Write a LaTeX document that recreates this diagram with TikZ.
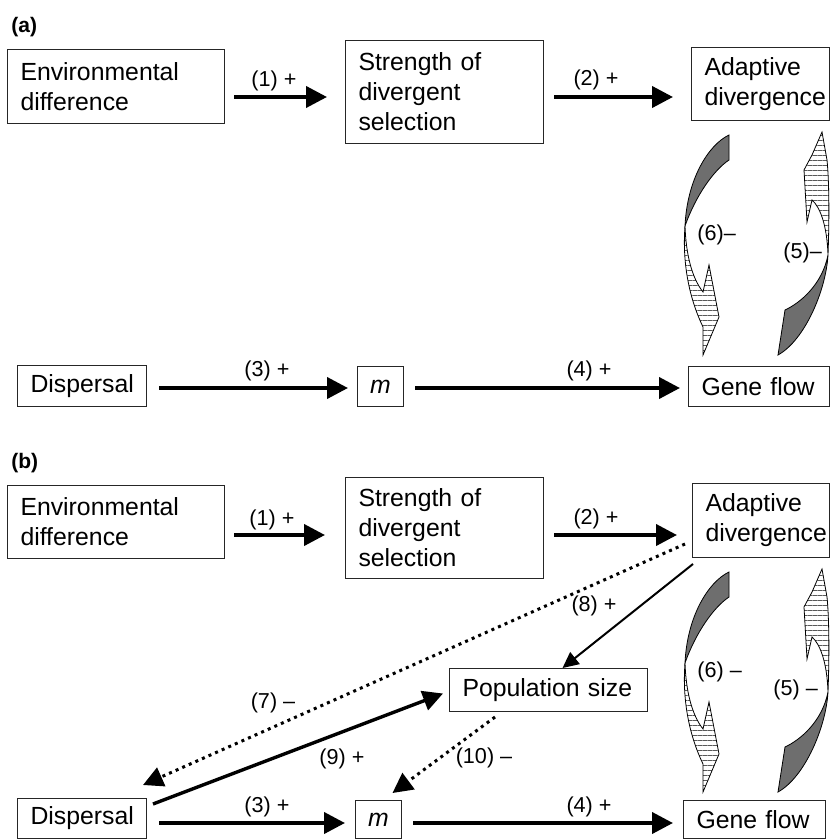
\documentclass[tikz,border=0pt]{standalone}
\usepackage{fontspec}
\setmainfont{Liberation Sans}
\usetikzlibrary{arrows.meta,patterns.meta}
\newcommand{\boxfont}{\fontsize{12.4}{15}\selectfont}
\newcommand{\lblfont}{\fontsize{10.8}{13}\selectfont}
\begin{document}
\begin{tikzpicture}[x=0.5pt,y=-0.5pt,
  box/.style={draw=black!85,line width=0.5pt,anchor=north west,align=left,inner xsep=6.5pt,inner ysep=0pt,font=\boxfont},
  mbox/.style={draw=black!85,line width=0.5pt,anchor=north west,inner sep=0pt,minimum width=23pt,font=\boxfont\itshape},
  lbl/.style={font=\lblfont,inner sep=1pt},
  panel/.style={font=\fontsize{10.5}{12}\selectfont\bfseries,anchor=west,inner sep=0pt},
  bigarrow/.style={-{Triangle[length=10.5pt,width=10.5pt]},line width=2pt},
  medarrow/.style={-{Triangle[length=10pt,width=10pt]},line width=1.7pt},
  slimarrow/.style={-{Triangle[length=8pt,width=7.5pt]},line width=1pt},
  dotarrow/.style={-{Triangle[length=10pt,width=10pt]},line width=1.5pt,dash pattern=on 1.5pt off 2.1pt},
  backside/.style={draw=black,line width=0.4pt,fill=black!57},
  frontside/.style={draw=black,line width=0.4pt,pattern={Lines[angle=0,distance=2.5pt,line width=0.3pt]},pattern color=black!65}]
\useasboundingbox (0,0) rectangle (831,840);

% (a) simple model
\node[panel] (pa) at (11,27) {(a)};
\node[box,text width=95.5pt,minimum height=37pt] (enva) at (7,49) {Environmental\\difference};
\node[box,text width=86pt,minimum height=51.5pt] (stra) at (345,40) {Strength of\\divergent\\selection};
\node[box,text width=56pt,minimum height=36.5pt] (ada) at (691,47) {Adaptive\\divergence};
\node[box,text width=51.5pt,minimum height=20.5pt] (dispa) at (17,365) {Dispersal};
\node[mbox,minimum height=20pt] (ma) at (357,366) {m};
\node[box,text width=57.5pt,minimum height=20pt] (gfa) at (688,366) {Gene flow};
\coordinate (ytop) at (0,97);
\coordinate (ybot) at (0,388);

\draw[bigarrow,shorten <=4.5pt,shorten >=9pt] (enva.east |- ytop) -- (stra.west |- ytop);
\draw[bigarrow,shorten <=5pt,shorten >=9pt] (stra.east |- ytop) -- (ada.west |- ytop);
\draw[bigarrow,shorten <=6pt,shorten >=4.5pt] (dispa.east |- ybot) -- (ma.west |- ybot);
\draw[bigarrow,shorten <=5.5pt,shorten >=4pt] (ma.east |- ybot) -- (gfa.west |- ybot);
\node[lbl] (l1a) at (274,81) {(1) +};
\node[lbl] (l2a) at (596,80) {(2) +};
\node[lbl] (l3a) at (267,371) {(3) +};
\node[lbl] (l4a) at (589,371) {(4) +};

% (b) with population size
\node[panel] (pb) at (11,463) {(b)};
\node[box,text width=95.5pt,minimum height=36.5pt] (envb) at (7,485) {Environmental\\difference};
\node[box,text width=86pt,minimum height=50.5pt] (strb) at (345,477) {Strength of\\divergent\\selection};
\node[box,text width=55.5pt,minimum height=37pt] (adb) at (692,483) {Adaptive\\divergence};
\node[box,text width=86pt,minimum height=21.5pt] (popb) at (449,668) {Population size};
\node[box,text width=51.5pt,minimum height=20pt] (dispb) at (17,798) {Dispersal};
\node[mbox,minimum height=19pt] (mb) at (355,800) {m};
\node[box,text width=58pt,minimum height=19pt] (gfb) at (683,800) {Gene flow};
\coordinate (ytopb) at (0,535);
\coordinate (ybotb) at (0,823);

\draw[bigarrow,shorten <=4.5pt,shorten >=10pt] (envb.east |- ytopb) -- (strb.west |- ytopb);
\draw[bigarrow,shorten <=5pt,shorten >=7.5pt] (strb.east |- ytopb) -- (adb.west |- ytopb);
\draw[bigarrow,shorten <=6pt,shorten >=5pt] (dispb.east |- ybotb) -- (mb.west |- ybotb);
\draw[bigarrow,shorten <=5.5pt,shorten >=5pt] (mb.east |- ybotb) -- (gfb.west |- ybotb);
\draw[dotarrow] ([xshift=-3.5pt,yshift=7pt]adb.south west) -- ([xshift=-2pt,yshift=6.5pt]dispb.north east);
\draw[slimarrow] ([xshift=0.5pt,yshift=-3pt]adb.south west) -- ([xshift=7pt]popb.north);
\draw[medarrow] ([xshift=3pt,yshift=-3pt]dispb.north east) -- ([xshift=-3pt,yshift=-1.75pt]popb.west);
\draw[dotarrow] ([xshift=23pt,yshift=-2.5pt]popb.south west) -- ([xshift=7pt,yshift=3.5pt]mb.north);
\node[lbl] (l1b) at (272,520) {(1) +};
\node[lbl] (l2b) at (596,519) {(2) +};
\node[lbl] (l3b) at (267,807) {(3) +};
\node[lbl] (l4b) at (589,807) {(4) +};
\node[lbl] (l7b) at (273,703) {(7) –};
\node[lbl] (l8b) at (594,606) {(8) +};
\node[lbl] (l9b) at (342,759) {(9) +};
\node[lbl] (l10b) at (484,758) {(10) –};

% twisted feedback arrows, same in both panels
\foreach \dy in {0,437} {
  \begin{scope}[shift={(0,\dy)}]
    \draw[backside] (729,135) .. controls (708,145) and (687,180) .. (685,226)
      .. controls (696,195) and (714,170) .. (729,160) -- cycle;
    \draw[frontside] (685,226) .. controls (682,265) and (690,300) .. (703,327) -- (703,355)
      -- (719,317) -- (709,265) -- (703,292) .. controls (692,278) and (686,255) .. (685,226) -- cycle;
    \draw[frontside] (822,132) -- (812,155) -- (804,170) -- (807,222) -- (812,200)
      .. controls (820,207) and (827,225) .. (828,255)
      .. controls (829.5,215) and (829,180) .. (827,160) -- cycle;
    \draw[backside] (828,255) .. controls (826,290) and (805,340) .. (778,355) -- (785,310)
      .. controls (800,303) and (822,285) .. (828,255) -- cycle;
  \end{scope}
}
\node[lbl,anchor=west] (l6a) at (695,235) {(6)–};
\node[lbl,anchor=west] (l5a) at (781,253) {(5)–};
\node[lbl,anchor=west] (l6b) at (695,672) {(6) –};
\node[lbl,anchor=west] (l5b) at (771,690) {(5) –};
\end{tikzpicture}
\end{document}
